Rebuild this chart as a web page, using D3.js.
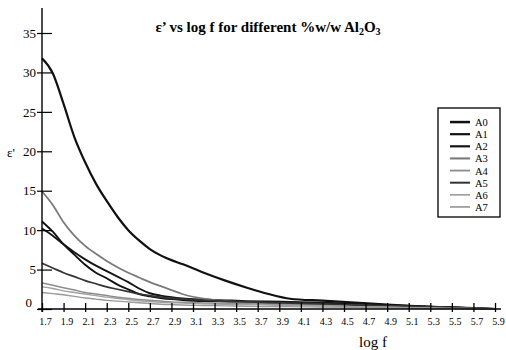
<!DOCTYPE html>
<html><head><meta charset="utf-8">
<script src="https://cdn.jsdelivr.net/npm/d3@7"></script>
<style>body{margin:0;background:#fff}svg{display:block;font-family:"Liberation Serif","Times New Roman",serif}</style>
</head><body><svg id="c" width="506" height="350"></svg>
<script>
const logF = [1.7,1.8,1.9,2.0,2.1,2.2,2.3,2.4,2.5,2.6,2.7,2.8,2.9,3.0,3.2,3.4,3.6,3.8,4.0,4.3,4.6,4.9,5.2,5.5,5.9];
const A0 = [31.8,29.9,26.0,21.8,18.6,15.9,13.7,11.7,10.0,8.7,7.6,6.8,6.2,5.7,4.6,3.6,2.7,1.9,1.3,1.05,0.8,0.55,0.35,0.2,0.0];
const A1 = [11.1,9.8,8.2,6.9,5.6,4.6,3.9,3.1,2.5,1.9,1.6,1.4,1.25,1.15,1.0,0.95,0.9,0.85,0.8,0.7,0.55,0.4,0.3,0.2,0.0];
const A2 = [10.2,9.3,8.2,7.2,6.3,5.5,4.8,4.1,3.4,2.6,2.0,1.7,1.5,1.35,1.2,1.1,1.0,0.95,0.9,0.8,0.65,0.5,0.35,0.2,0.0];
const A3 = [14.9,13.2,11.0,9.3,8.0,7.0,6.1,5.3,4.6,4.0,3.4,2.9,2.4,1.9,1.3,1.0,0.85,0.75,0.65,0.55,0.45,0.35,0.25,0.15,0.0];
const A4 = [3.3,3.0,2.7,2.4,2.1,1.9,1.7,1.5,1.35,1.2,1.1,1.0,0.9,0.85,0.75,0.7,0.65,0.6,0.55,0.5,0.4,0.3,0.2,0.1,0.0];
const A5 = [5.8,5.2,4.6,4.1,3.6,3.2,2.8,2.5,2.2,1.9,1.7,1.5,1.35,1.25,1.1,1.0,0.9,0.8,0.75,0.65,0.5,0.4,0.3,0.15,0.0];
const A6 = [2.8,2.6,2.3,2.1,1.9,1.7,1.5,1.35,1.2,1.05,0.95,0.85,0.8,0.75,0.65,0.6,0.55,0.5,0.45,0.4,0.3,0.25,0.15,0.1,0.0];
const A7 = [2.1,1.95,1.8,1.6,1.4,1.25,1.1,1.0,0.9,0.8,0.7,0.6,0.55,0.5,0.45,0.4,0.35,0.3,0.3,0.25,0.2,0.15,0.1,0.05,0.0];
const seriesNames = ["A0","A1","A2","A3","A4","A5","A6","A7"];
const xTicks = [1.7,1.9,2.1,2.3,2.5,2.7,2.9,3.1,3.3,3.5,3.7,3.9,4.1,4.3,4.5,4.7,4.9,5.1,5.3,5.5,5.7,5.9];
const yTicks = [0,5,10,15,20,25,30,35];

const seriesData = [A0,A1,A2,A3,A4,A5,A6,A7];
const styles = [
  {c:"#111",w:2.2},{c:"#111",w:1.9},{c:"#151515",w:1.9},{c:"#7a7a7a",w:1.8},
  {c:"#8c8c8c",w:1.5},{c:"#333",w:1.7},{c:"#a0a0a0",w:1.4},{c:"#999",w:1.4}
];

const svg = d3.select("#c");
const x = d3.scaleLinear().domain([1.7,5.9]).range([42,495]);
const y = d3.scaleLinear().domain([0,35]).range([309,33]);

const line = d3.line().x(d=>x(d[0])).y(d=>y(d[1])).curve(d3.curveMonotoneX);
seriesData.forEach((vals,i)=>{
  svg.append("path").datum(logF.map((f,j)=>[f,vals[j]]))
    .attr("d",line).attr("fill","none")
    .attr("stroke",styles[i].c).attr("stroke-width",styles[i].w);
});

const xa = svg.append("g").attr("transform","translate(0,309)")
  .call(d3.axisBottom(x).tickValues(xTicks).tickSize(3).tickFormat(d3.format(".1f")));
xa.select(".domain").remove();
xa.append("line").attr("x1",38).attr("x2",501).attr("stroke","#000").attr("stroke-width",1.4);
xa.selectAll(".tick line").attr("y1",-6).attr("y2",3).attr("stroke","#000").attr("stroke-width",1.3);
xa.selectAll(".tick text").attr("y",9).attr("dx",3).attr("font-size",10).attr("font-family","Liberation Serif").attr("fill","#000");

const ya = svg.append("g").attr("transform","translate(42,0)")
  .call(d3.axisLeft(y).tickValues(yTicks).tickSize(5));
ya.select(".domain").remove();
ya.append("line").attr("y1",8).attr("y2",312).attr("stroke","#000").attr("stroke-width",1.4);
ya.selectAll(".tick line").attr("x1",-5).attr("x2",10).attr("stroke","#000").attr("stroke-width",1.2);
ya.selectAll(".tick text").attr("x",-6).attr("font-size",13).attr("font-family","Liberation Serif").attr("fill","#000");
ya.selectAll(".tick").filter(d=>d===0).select("text").attr("dy","-0.2em").attr("x",-10);

svg.append("text").attr("x",373).attr("y",347).attr("text-anchor","middle")
  .attr("font-size",15).text("log f");
svg.append("text").attr("x",11).attr("y",157).attr("text-anchor","middle")
  .attr("font-size",13).text("ε'");

const t = svg.append("text").attr("x",268).attr("y",32).attr("text-anchor","middle")
  .attr("font-size",15).attr("font-weight","bold");
t.append("tspan").text("ε’ vs log f for different %w/w Al");
t.append("tspan").attr("font-size",10).attr("dy",3).text("2");
t.append("tspan").attr("dy",-3).text("O");
t.append("tspan").attr("font-size",10).attr("dy",3).text("3");

svg.append("rect").attr("x",438).attr("y",108).attr("width",62).attr("height",109)
  .attr("fill","#fff").attr("stroke","#000").attr("stroke-width",1.3);
const leg = d3.scaleBand().domain(seriesNames).range([116,213]);
seriesNames.forEach((n,i)=>{
  const yy = leg(n)+leg.bandwidth()/2;
  svg.append("line").attr("x1",450).attr("x2",470).attr("y1",yy).attr("y2",yy)
    .attr("stroke",styles[i].c).attr("stroke-width",styles[i].w+0.3);
  svg.append("text").attr("x",475).attr("y",yy+4)
    .attr("font-size",10.5).text(n);
});
</script></body></html>
